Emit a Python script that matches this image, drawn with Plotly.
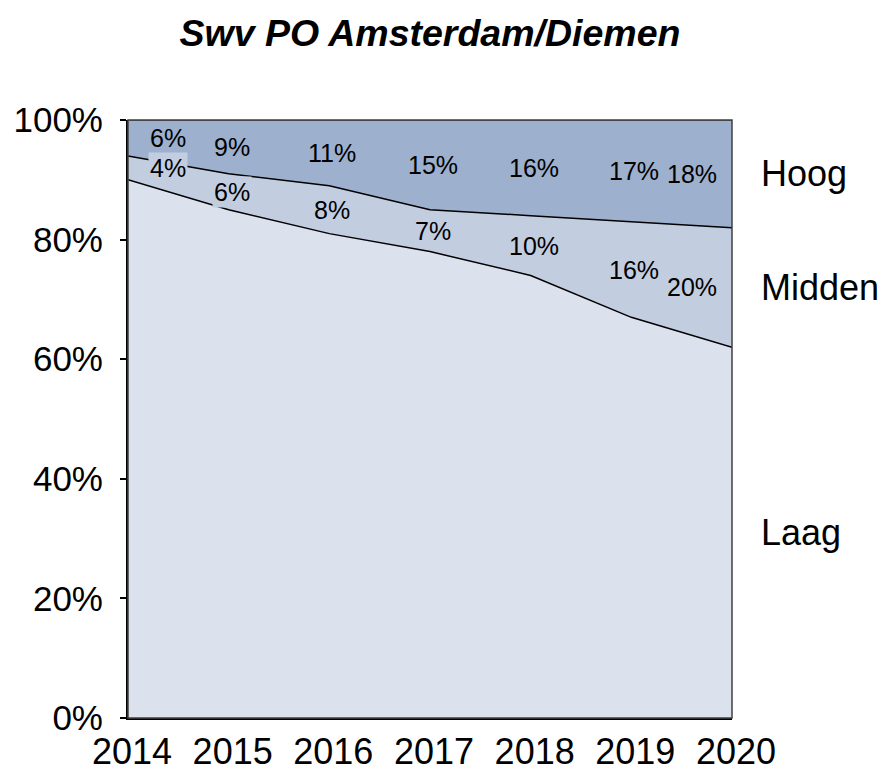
import plotly.graph_objects as go

years = [2014, 2015, 2016, 2017, 2018, 2019, 2020]
laag = [90, 85, 81, 78, 74, 67, 62]
midden = [4, 6, 8, 7, 10, 16, 20]
hoog = [6, 9, 11, 15, 16, 17, 18]
series_names = ["Laag", "Midden", "Hoog"]
y_tick_vals = [0, 20, 40, 60, 80, 100]
y_tick_text = ["0%", "20%", "40%", "60%", "80%", "100%"]
title_text = "Swv PO Amsterdam/Diemen"

FONT = "Liberation Sans, Arial, sans-serif"
c_laag = "#DCE2ED"
c_mid = "#C3CDE0"
c_hoog = "#9DB0CE"

# the page body adds an 8px margin, so the figure is 8px smaller in both directions
FIG_W, FIG_H = 878, 761

fig = go.Figure()
fig.add_trace(go.Scatter(x=years, y=laag, name="Laag", stackgroup="s", mode="lines",
                         line=dict(color="black", width=1.5), fillcolor=c_laag))
fig.add_trace(go.Scatter(x=years, y=midden, name="Midden", stackgroup="s", mode="lines",
                         line=dict(color="black", width=1.5), fillcolor=c_mid))
fig.add_trace(go.Scatter(x=years, y=hoog, name="Hoog", stackgroup="s", mode="lines",
                         line=dict(color="#404040", width=1.5), fillcolor=c_hoog))

annotations = []
n = len(years)
for i, yr in enumerate(years):
    xs = 40 if i == 0 else (-40 if i == n - 1 else 3)
    mid_mid = laag[i] + midden[i] / 2
    mid_hoog = laag[i] + midden[i] + hoog[i] / 2
    annotations.append(dict(x=yr, y=mid_hoog, text=f"{hoog[i]}%", showarrow=False,
                            xshift=xs, bgcolor=c_hoog,
                            font=dict(family=FONT, size=25, color="black")))
    annotations.append(dict(x=yr, y=mid_mid, text=f"{midden[i]}%", showarrow=False,
                            xshift=xs, bgcolor=c_mid,
                            font=dict(family=FONT, size=25, color="black")))

# series names at the right
last = n - 1
name_y = [laag[last] / 2, laag[last] + midden[last] / 2,
          laag[last] + midden[last] + hoog[last] / 2]
for nm, yv in zip(series_names, name_y):
    annotations.append(dict(x=years[last], y=yv, text=nm, showarrow=False,
                            xanchor="left", xshift=27,
                            font=dict(family=FONT, size=36, color="black")))

fig.update_layout(
    width=FIG_W, height=FIG_H,
    margin=dict(l=120, r=154, t=112, b=51, autoexpand=False),
    paper_bgcolor="white", plot_bgcolor="white",
    showlegend=False,
    title=dict(text=f"<b><i>{title_text}</i></b>", x=0.5, xref="paper", xanchor="center",
               y=1 - 25 / FIG_H, yref="container", yanchor="middle",
               font=dict(family=FONT, size=37.5, color="black"), automargin=False),
    annotations=annotations,
    shapes=[dict(type="rect", xref="paper", yref="paper", x0=0, x1=1, y0=0, y1=1,
                 line=dict(color="#404040", width=1.5), layer="above")],
)
fig.update_xaxes(range=[2014, 2020], tickvals=years, ticktext=[str(y) for y in years],
                 showgrid=False, zeroline=False, showline=True, linecolor="black",
                 linewidth=2, ticks="", automargin=False, ticklabelstandoff=1,
                 ticklabelshift=4,
                 tickfont=dict(family=FONT, size=36, color="black"))
fig.update_yaxes(range=[0, 100], tickvals=y_tick_vals, ticktext=y_tick_text,
                 showgrid=False, zeroline=False, showline=True, linecolor="black",
                 linewidth=2, ticks="outside", ticklen=6, tickcolor="black", tickwidth=2,
                 automargin=False, ticklabelstandoff=10,
                 tickfont=dict(family=FONT, size=35, color="black"))

fig.write_html("out.html")
